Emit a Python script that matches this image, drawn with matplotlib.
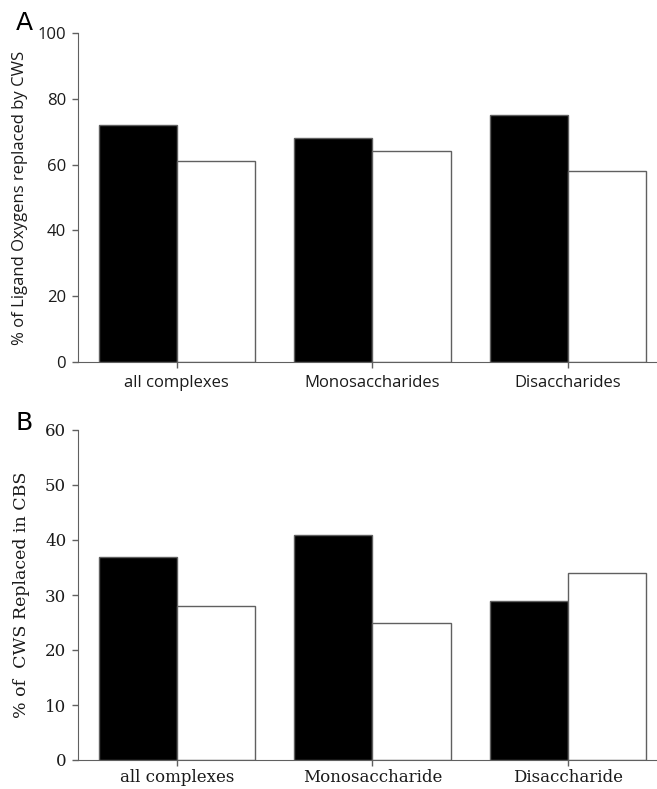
import matplotlib
matplotlib.use("Agg")
import matplotlib.pyplot as plt
import numpy as np

cats_a = ["all complexes", "Monosaccharides", "Disaccharides"]
black_a = [72, 68, 75]
white_a = [61, 64, 58]

cats_b = ["all complexes", "Monosaccharide", "Disaccharide"]
black_b = [37, 41, 29]
white_b = [28, 25, 34]

W, H = 657, 789
fig = plt.figure(figsize=(W / 100, H / 100), dpi=100)

def px_axes(left, top, right, bottom):
    return fig.add_axes([left / W, 1 - bottom / H, (right - left) / W, (bottom - top) / H])

edge = "#606060"
spine_c = "#606060"
txt_c = "#1a1a1a"

def panel(ax, cats, blacks, whites, ymax, step, ylabel, family, letter, fs, lfs, ly, xpad, lx):
    x = np.arange(len(cats))
    w = 0.4
    ax.bar(x - w / 2, blacks, w, color="black", edgecolor=edge, linewidth=1.0)
    ax.bar(x + w / 2, whites, w, color="white", edgecolor=edge, linewidth=1.0)
    ax.set_xlim(-0.505, 2.455)
    ax.set_ylim(0, ymax)
    ax.set_yticks(np.arange(0, ymax + 1, step))
    ax.set_xticks(x)
    ax.set_xticklabels(cats, fontfamily=family, fontsize=fs, color=txt_c)
    for lab in ax.get_yticklabels():
        lab.set_fontfamily(family)
        lab.set_fontsize(fs)
        lab.set_color(txt_c)
    ax.spines["top"].set_visible(False)
    ax.spines["right"].set_visible(False)
    ax.spines["left"].set_color(spine_c)
    ax.spines["bottom"].set_color(spine_c)
    ax.tick_params(axis="both", direction="out", length=4.5, color=spine_c, width=1)
    ax.tick_params(axis="x", pad=xpad)
    ax.tick_params(axis="y", pad=4)
    ax.set_ylabel(ylabel, fontfamily=family, fontsize=lfs, color=txt_c)
    ax.yaxis.set_label_coords(lx, 0.5)
    ax.text(-0.093, ly, letter, transform=ax.transAxes, fontsize=18,
            fontfamily="DejaVu Sans", ha="center", va="center")

ax1 = px_axes(78, 33, 657, 362)
panel(ax1, cats_a, black_a, white_a, 100, 20,
      "% of Ligand Oxygens replaced by CWS", "Open Sans", "A", 12, 12, 1.03, 5, -0.087)

ax2 = px_axes(78, 430, 657, 760)
panel(ax2, cats_b, black_b, white_b, 60, 10,
      "% of  CWS Replaced in CBS", "DejaVu Serif", "B", 12, 12.5, 1.02, 2, -0.083)

fig.savefig("out.png", dpi=100)
